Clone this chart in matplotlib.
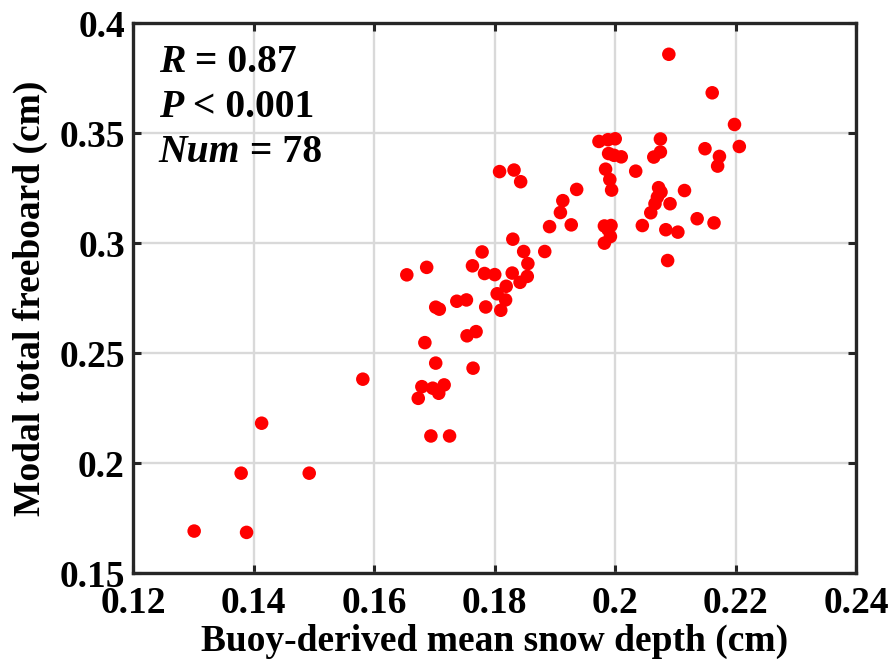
import numpy as np
import matplotlib.pyplot as plt

# buoy-derived mean snow depth (cm)
snow = np.array([
    0.1301, 0.1388, 0.1379, 0.1492, 0.1413, 0.1581,
    0.1673, 0.1679, 0.1697, 0.1716, 0.1707, 0.1694, 0.1725, 0.1702, 0.1764,
    0.1684, 0.1754, 0.1769, 0.1702, 0.1708, 0.1737, 0.1753, 0.1785, 0.1810,
    0.1818, 0.1804, 0.1819, 0.1654, 0.1687, 0.1763, 0.1783, 0.1800, 0.1829,
    0.1842, 0.1854, 0.1855, 0.1779, 0.1848, 0.1883, 0.1830, 0.1808, 0.1832,
    0.1843, 0.1891, 0.1927, 0.1909, 0.1913, 0.1936,
    0.1982, 0.1992, 0.1982, 0.1993, 0.1988, 0.1994, 0.1991, 0.1984, 0.1989,
    0.1998, 0.2010, 0.1973, 0.1988, 0.2000, 0.2034, 0.2045, 0.2059, 0.2066,
    0.2070, 0.2076, 0.2072, 0.2091, 0.2115, 0.2084, 0.2104, 0.2136, 0.2164,
    0.2087, 0.2064, 0.2075, 0.2075, 0.2149, 0.2173, 0.2170, 0.2198, 0.2206,
    0.2161, 0.2089,
])

# modal total freeboard (cm)
freeboard = np.array([
    0.1692, 0.1686, 0.1955, 0.1955, 0.2182, 0.2382,
    0.2295, 0.2348, 0.2341, 0.2356, 0.2318, 0.2124, 0.2124, 0.2455, 0.2432,
    0.2548, 0.2579, 0.2598, 0.2709, 0.2700, 0.2736, 0.2742, 0.2710, 0.2695,
    0.2742, 0.2770, 0.2804, 0.2856, 0.2890, 0.2897, 0.2862, 0.2857, 0.2864,
    0.2822, 0.2849, 0.2907, 0.2960, 0.2962, 0.2962, 0.3018, 0.3325, 0.3332,
    0.3279, 0.3075, 0.3083, 0.3139, 0.3193, 0.3244,
    0.3000, 0.3030, 0.3078, 0.3080, 0.3062, 0.3241, 0.3289, 0.3336, 0.3407,
    0.3399, 0.3392, 0.3462, 0.3470, 0.3474, 0.3327, 0.3080, 0.3138, 0.3179,
    0.3209, 0.3232, 0.3252, 0.3179, 0.3239, 0.3061, 0.3050, 0.3111, 0.3092,
    0.2921, 0.3391, 0.3414, 0.3473, 0.3429, 0.3394, 0.3350, 0.3539, 0.3439,
    0.3683, 0.3858,
])

stats = [("R", " = 0.87"), ("P", " < 0.001"), ("Num", " = 78")]
xticks = [0.12, 0.14, 0.16, 0.18, 0.2, 0.22, 0.24]
yticks = [0.15, 0.2, 0.25, 0.3, 0.35, 0.4]

plt.rcParams["font.family"] = ["Liberation Serif", "DejaVu Serif"]
plt.rcParams["font.weight"] = "bold"

fig = plt.figure(figsize=(8.9, 6.69), dpi=100)
ax = fig.add_axes([0.1498, 0.143, 0.8122, 0.8226])

ax.grid(True, color="#d9d9d9", linewidth=1.7, zorder=0)
ax.set_axisbelow(True)
ax.scatter(snow, freeboard, s=95, color="red", edgecolors="none", zorder=3)

ax.set_xlim(0.12, 0.24)
ax.set_ylim(0.15, 0.4)
ax.set_xticks(xticks)
ax.set_yticks(yticks)
ax.set_xticklabels([f"{t:g}" for t in xticks])
ax.set_yticklabels([f"{t:g}" for t in yticks])
ax.tick_params(direction="in", length=6, width=2.2, color="#262626",
               top=True, right=True, labelsize=27, pad=6)
ax.tick_params(axis="x", pad=9)
for sp in ax.spines.values():
    sp.set_linewidth(2.4)
    sp.set_color("#262626")

ax.set_xlabel("Buoy-derived mean snow depth (cm)", fontsize=27, fontweight="bold", labelpad=2)
ax.set_ylabel("Modal total freeboard (cm)", fontsize=27, fontweight="bold", labelpad=8)

# stats block, italic symbol followed by upright text
y0 = 0.962
for i, (sym, rest) in enumerate(stats):
    t = ax.text(0.035, y0 - i * 0.082, sym, transform=ax.transAxes, fontsize=28.5,
                fontweight="bold", fontstyle="italic", va="top", ha="left")
    ax.annotate(rest, xy=(1, 0), xycoords=t, fontsize=28.5, fontweight="bold",
                va="bottom", ha="left")

fig.savefig("out.png", dpi=100)
